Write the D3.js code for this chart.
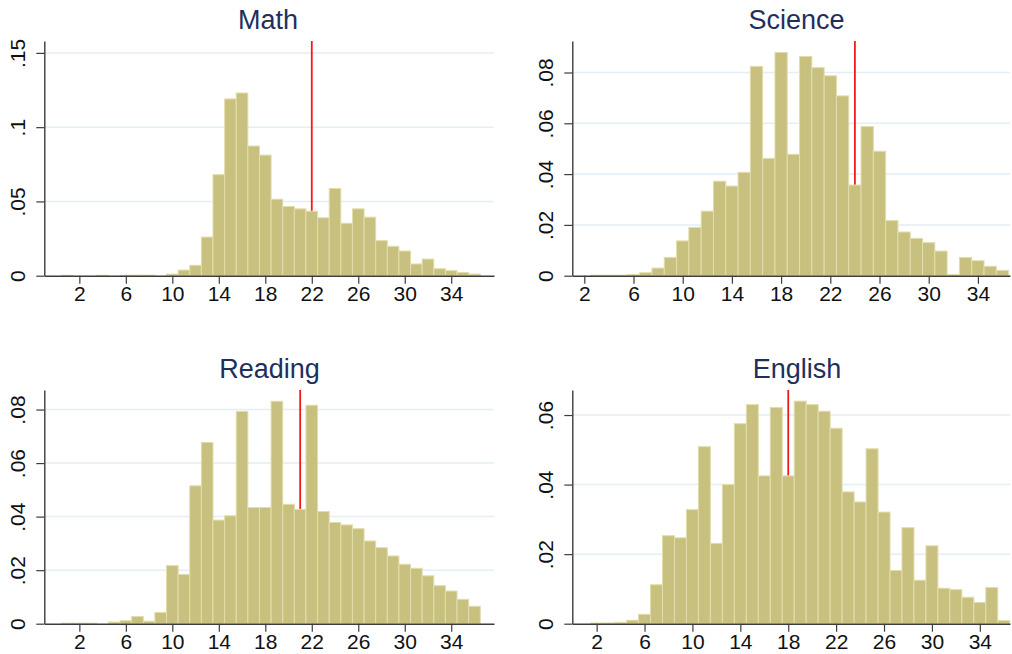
<!DOCTYPE html>
<html>
<head>
<meta charset="utf-8">
<script src="https://cdn.jsdelivr.net/npm/d3@7"></script>
<style>
  html, body { margin: 0; padding: 0; background: #ffffff; }
  svg { display: block; }
  text { font-family: "Liberation Sans", Arial, Helvetica, sans-serif; }
</style>
</head>
<body>
<svg id="chart" width="1012" height="654"></svg>
<script>
// Scores 1..36, share of students per score (density)
const scores = d3.range(1, 37);

const mathDensity = [
  0.0003, 0, 0, 0.0003, 0, 0.0003, 0.0004, 0.0004, 0, 0.0011,
  0.0038, 0.0070, 0.0260, 0.0680, 0.1190, 0.1230, 0.0873, 0.0812, 0.0515, 0.0466,
  0.0450, 0.0434, 0.0390, 0.0587, 0.0353, 0.0450, 0.0394, 0.0236, 0.0198, 0.0166,
  0.0079, 0.0112, 0.0047, 0.0034, 0.0022, 0.0011
];
const scienceDensity = [
  0, 0, 0.0002, 0.0002, 0.0002, 0.0005, 0.0012, 0.0030, 0.0072, 0.0137,
  0.0190, 0.0254, 0.0372, 0.0353, 0.0407, 0.0824, 0.0462, 0.0879, 0.0478, 0.0863,
  0.0819, 0.0787, 0.0708, 0.0357, 0.0587, 0.0490, 0.0217, 0.0172, 0.0147, 0.0130,
  0.0097, 0.0005, 0.0072, 0.0059, 0.0037, 0.0021
];
const readingDensity = [
  0.0002, 0.0002, 0.0002, 0, 0.0006, 0.0011, 0.0027, 0.0009, 0.0042, 0.0217,
  0.0184, 0.0515, 0.0677, 0.0387, 0.0403, 0.0793, 0.0434, 0.0434, 0.0831, 0.0446,
  0.0427, 0.0816, 0.0419, 0.0378, 0.0369, 0.0355, 0.0309, 0.0284, 0.0253, 0.0222,
  0.0207, 0.0179, 0.0142, 0.0122, 0.0091, 0.0065
];
const englishDensity = [
  0, 0.0002, 0.0002, 0.0004, 0.0010, 0.0027, 0.0112, 0.0253, 0.0247, 0.0328,
  0.0509, 0.0231, 0.0400, 0.0575, 0.0630, 0.0425, 0.0622, 0.0425, 0.0640, 0.0630,
  0.0611, 0.0562, 0.0379, 0.0350, 0.0503, 0.0321, 0.0153, 0.0276, 0.0125, 0.0224,
  0.0102, 0.0098, 0.0076, 0.0061, 0.0104, 0.0009
];

// Reference score marked by the red line in each panel
const markerScores = { Math: 22, Science: 24, Reading: 21, English: 18 };

// Axis ticks
const xTicks = [2, 6, 10, 14, 18, 22, 26, 30, 34];
const yTicksMath = [0, 0.05, 0.1, 0.15];
const yTicksScience = [0, 0.02, 0.04, 0.06, 0.08];
const yTicksReading = [0, 0.02, 0.04, 0.06, 0.08];
const yTicksEnglish = [0, 0.02, 0.04, 0.06];

// Panel frames (pixel layout) and axis domains
const panels = [
  { title: "Math", values: mathDensity, yTicks: yTicksMath,
    left: 44.3, right: 494, top: 41, bottom: 275.7,
    xDomain: [-1.016, 37.68], yMax: 0.158, titleX: 268, titleY: 29 },
  { title: "Science", values: scienceDensity, yTicks: yTicksScience,
    left: 572.3, right: 1010, top: 41, bottom: 275.7,
    xDomain: [1.024, 36.61], yMax: 0.0924, titleX: 796.5, titleY: 29 },
  { title: "Reading", values: readingDensity, yTicks: yTicksReading,
    left: 44.3, right: 494, top: 390, bottom: 623.7,
    xDomain: [-1.016, 37.68], yMax: 0.0873, titleX: 269.5, titleY: 378 },
  { title: "English", values: englishDensity, yTicks: yTicksEnglish,
    left: 572.3, right: 1010, top: 390, bottom: 623.7,
    xDomain: [-0.033, 36.52], yMax: 0.0672, titleX: 797, titleY: 378 }
];

const BAR_FILL = "#c8c07e";
const BAR_EDGE = "#e3ddac";
const GRID = "#e4eef4";
const AXIS = "#3c3c3c";
const TITLE = "#1e2f5c";

// Stata-style decimal labels: 0, .05, .1
const fmtY = v => v === 0 ? "0" : String(+v.toFixed(4)).replace(/^0\./, ".");

const svg = d3.select("#chart");

panels.forEach(p => {
  const x = d3.scaleLinear().domain(p.xDomain).range([p.left, p.right]);
  const y = d3.scaleLinear().domain([0, p.yMax]).range([p.bottom, p.top]);
  const g = svg.append("g").attr("class", "panel");

  // horizontal gridlines
  g.append("g").selectAll("line")
    .data(p.yTicks.filter(t => t > 0))
    .join("line")
      .attr("x1", p.left).attr("x2", p.right)
      .attr("y1", d => y(d)).attr("y2", d => y(d))
      .attr("stroke", GRID).attr("stroke-width", 1.5);

  // reference line, drawn under the bars
  const m = markerScores[p.title];
  g.append("line")
    .attr("x1", x(m)).attr("x2", x(m))
    .attr("y1", y(p.yMax)).attr("y2", y(0))
    .attr("stroke", "#f51a1a").attr("stroke-width", 1.8);

  // histogram bars, one per score
  g.append("g").selectAll("rect")
    .data(scores.map((s, i) => ({ s, v: p.values[i] })).filter(d => d.v > 0))
    .join("rect")
      .attr("x", d => x(d.s - 0.5))
      .attr("width", d => x(d.s + 0.5) - x(d.s - 0.5))
      .attr("y", d => y(d.v))
      .attr("height", d => y(0) - y(d.v))
      .attr("fill", BAR_FILL)
      .attr("stroke", BAR_EDGE)
      .attr("stroke-width", 1);

  // y axis
  const yAxis = g.append("g")
    .attr("transform", `translate(${p.left},0)`)
    .call(d3.axisLeft(y).tickValues(p.yTicks).tickFormat(fmtY)
      .tickSize(8).tickSizeOuter(0));
  yAxis.select(".domain").attr("stroke", AXIS).attr("stroke-width", 1.4);
  yAxis.selectAll(".tick line").attr("stroke", AXIS).attr("stroke-width", 1.2);
  yAxis.selectAll(".tick text")
    .attr("x", null).attr("dy", null)
    .attr("transform", "translate(-19.3,0) rotate(-90)")
    .attr("text-anchor", "middle")
    .attr("font-size", 21)
    .attr("fill", "#111");

  // x axis
  const xAxis = g.append("g")
    .attr("transform", `translate(0,${p.bottom})`)
    .call(d3.axisBottom(x).tickValues(xTicks).tickFormat(d3.format("d"))
      .tickSize(8).tickSizeOuter(0));
  xAxis.select(".domain").attr("stroke", AXIS).attr("stroke-width", 1.4);
  xAxis.selectAll(".tick line").attr("stroke", AXIS).attr("stroke-width", 1.2);
  xAxis.selectAll(".tick text")
    .attr("y", 25.5).attr("dy", null)
    .attr("font-size", 21)
    .attr("fill", "#111");

  // panel title
  g.append("text")
    .attr("x", p.titleX).attr("y", p.titleY)
    .attr("text-anchor", "middle")
    .attr("font-size", 27)
    .attr("fill", TITLE)
    .text(p.title);
});
</script>
</body>
</html>
